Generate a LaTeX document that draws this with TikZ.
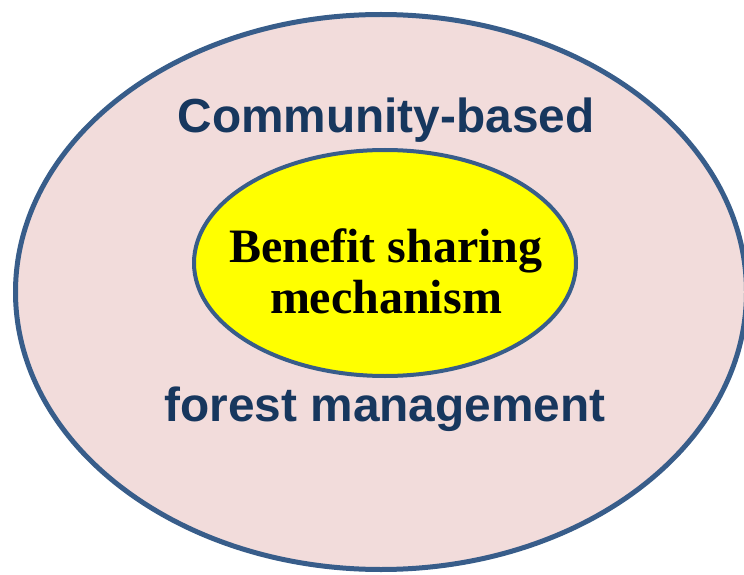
\documentclass[tikz,border=0pt]{standalone}
\usepackage{fontspec}
\setmainfont{Liberation Serif}
\newfontfamily\labelsans{Liberation Sans}
\usepackage{tikz}
\usetikzlibrary{shapes.geometric, positioning}
\definecolor{ringblue}{RGB}{56,93,138}
\definecolor{ringpink}{RGB}{242,220,219}
\definecolor{labelnavy}{RGB}{23,55,94}
\definecolor{coreyellow}{RGB}{255,255,0}

\begin{document}
\begin{tikzpicture}[
    x=1pt, y=1pt,
    ring/.style={ellipse, draw=ringblue, inner sep=0pt},
    cbfmlabel/.style={
        font=\labelsans\bfseries\fontsize{47.8}{52}\selectfont,
        text=labelnavy, anchor=base, inner sep=0pt
    }
]
\useasboundingbox (0,0) rectangle (744,574);

% Outer ring
\node[ring, line width=5pt, fill=ringpink,
      minimum width=731pt, minimum height=555pt] (outer) at (381,282) {};

% Inner core
\node[ring, line width=4pt, fill=coreyellow,
      minimum width=382pt, minimum height=226pt] (inner) at (385,311) {};
\node[font=\bfseries\fontsize{48}{51}\selectfont, align=center, inner sep=0pt]
    (bsm) at (386,303) {Benefit sharing\\mechanism};

% Labels
\node[cbfmlabel] (cbtop) at (386,441) {Community-based};
\node[cbfmlabel] (cbbot) at (385,153) {forest management};

\end{tikzpicture}
\end{document}
